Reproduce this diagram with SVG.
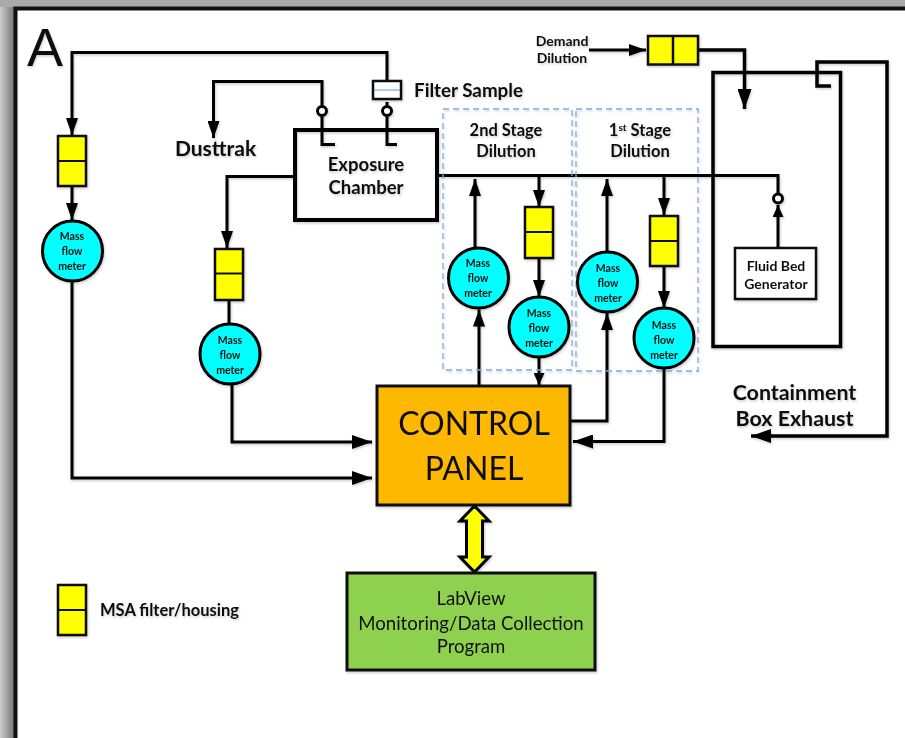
<svg xmlns="http://www.w3.org/2000/svg" width="905" height="738" viewBox="0 0 905 738">
<defs>
<style>
text{font-family:Lato,"Open Sans","Liberation Sans",sans-serif;fill:#111;text-anchor:middle}
.b{font-weight:700}
.c{fill:none;stroke:#000;stroke-width:3}
.c2{fill:none;stroke:#000;stroke-width:3.5}
.f{fill:#ff0;stroke:#111;stroke-width:2.5}
.m{fill:#0ff;stroke:#000;stroke-width:3}
.mt{font-size:10.500px;font-weight:700}
.h{fill:#000}
.d{fill:none;stroke:#7fadd6;stroke-width:1.3;stroke-dasharray:6 4}
.v{fill:#fff;stroke:#000;stroke-width:3}
</style>
<marker id="a" viewBox="0 0 17 12" markerWidth="17" markerHeight="12" refX="17" refY="6" orient="auto" markerUnits="userSpaceOnUse"><path d="M0 0L17 6L0 12Z" fill="#000"/></marker>
<marker id="a2" viewBox="0 0 20 14" markerWidth="20" markerHeight="14" refX="20" refY="7" orient="auto" markerUnits="userSpaceOnUse"><path d="M0 0L20 7L0 14Z" fill="#000"/></marker>
<marker id="a3" viewBox="0 0 12 11" markerWidth="12" markerHeight="11" refX="12" refY="5.500" orient="auto" markerUnits="userSpaceOnUse"><path d="M0 0L12 5.500L0 11Z" fill="#000"/></marker>
<filter id="s" x="0" y="0" width="100%" height="100%" filterUnits="userSpaceOnUse" primitiveUnits="userSpaceOnUse"><feGaussianBlur in="SourceGraphic" stdDeviation="0.400" result="b"/><feDropShadow in="b" dx="1" dy="1.500" stdDeviation="1" flood-color="#000" flood-opacity="0.200"/></filter>
<linearGradient id="g" x1="0" x2="1" y1="0" y2="0"><stop offset="0" stop-color="#ccc"/><stop offset="1" stop-color="#777"/></linearGradient>
</defs>
<rect width="905" height="738" fill="#fff"/>
<rect x="0" y="0" width="14" height="738" fill="url(#g)"/>
<rect x="0" y="0" width="905" height="7" fill="#aaa"/>
<path d="M15.500 738V8.500H905" fill="none" stroke="#111" stroke-width="4"/>
<g filter="url(#s)">
<text x="45" y="66" style="font-size:54px;font-family:'Liberation Sans',sans-serif">A</text>

<g id="connectors">
<path class="c" marker-end="url(#a)" d="M387 80V52.500H72V135"/>
<path class="c" marker-end="url(#a)" d="M322 106V81.500H213.500V138"/>
<path class="c" d="M322 116V144.500H335M387 102V144.500H397"/>
<path class="c" marker-end="url(#a)" d="M72 187V220"/>
<path class="c" marker-end="url(#a)" d="M295 176.500H227V248"/>
<path class="c" d="M229 300V324"/>
<path class="c" marker-end="url(#a2)" d="M232 384V442H372"/>
<path class="c" marker-end="url(#a2)" d="M72 281V478H372"/>
<path class="c" d="M437 175.500H778V193"/>
<path class="c" marker-end="url(#a)" d="M479 385V309.500"/>
<path class="c" marker-end="url(#a)" d="M475 248V179"/>
<path class="c" marker-end="url(#a)" d="M539 176V207"/>
<path class="c" marker-end="url(#a)" d="M539 258V297"/>
<path class="c" marker-end="url(#a3)" d="M539 357V385"/>
<path class="c" marker-end="url(#a)" d="M571 421H607V313"/>
<path class="c" marker-end="url(#a)" d="M607 252V179"/>
<path class="c" marker-end="url(#a)" d="M664 176V215"/>
<path class="c" marker-end="url(#a)" d="M664 266V308"/>
<path class="c" marker-end="url(#a2)" d="M664 368V441.500H573"/>
<path class="c" marker-end="url(#a3)" d="M778 247V205"/>
<path class="c" marker-end="url(#a)" d="M589 50H646"/>
<path class="c2" marker-end="url(#a2)" d="M699 50H744.500V109"/>
<path class="c2" d="M713 346.500V72.500H840.500V346.500Z"/>
<path class="c2" marker-end="url(#a2)" d="M831 86H817V62H887V436H751"/>
</g>

<g id="stage2"><rect class="d" x="443" y="109" width="129" height="261"/><text class="b" x="506" y="136" font-size="16.500">2nd Stage</text><text class="b" x="506" y="157" font-size="16.500">Dilution</text></g>
<g id="stage1"><rect class="d" x="576" y="109" width="122" height="262"/><text class="b" x="640" y="136" font-size="16.500">1<tspan font-size="10" dy="-5">st</tspan><tspan dy="5"> Stage</tspan></text><text class="b" x="640" y="157" font-size="16.500">Dilution</text></g>

<g id="chamber"><rect x="295" y="130" width="142" height="90" fill="none" stroke="#000" stroke-width="4"/><text class="b" x="366" y="171" font-size="18.500">Exposure</text><text class="b" x="366" y="194" font-size="18.500">Chamber</text></g>
<g id="filter-sample"><rect x="373" y="81" width="28" height="18" fill="#fff" stroke="#111" stroke-width="2.500"/><path d="M374 90H400" stroke="#5b9bd5" stroke-width="1"/><text class="b" x="468.500" y="97" font-size="18.800">Filter Sample</text></g>
<g id="valve1"><circle class="v" cx="322" cy="111" r="4.500"/></g>
<g id="valve2"><circle class="v" cx="387" cy="111" r="4.500"/></g>
<g id="valve3"><circle class="v" cx="778" cy="198.500" r="4.500"/></g>
<g id="dusttrak"><text class="b" x="215.500" y="156" font-size="21">Dusttrak</text></g>
<g id="demand"><text class="b" x="562" y="46" font-size="14">Demand</text><text class="b" x="562" y="63" font-size="14">Dilution</text></g>
<g id="demand-filter"><rect class="f" x="648" y="36" width="50" height="28.500"/><path d="M673 36V64" stroke="#111" stroke-width="2.500"/></g>

<g id="filter1"><rect class="f" x="58" y="136" width="28" height="50"/><path d="M58 161H86" stroke="#111" stroke-width="2"/></g>
<g id="filter2"><rect class="f" x="215" y="249" width="28" height="51"/><path d="M215 273.500H243" stroke="#111" stroke-width="2"/></g>
<g id="filter3"><rect class="f" x="525" y="207" width="28" height="51"/><path d="M525 232H553" stroke="#111" stroke-width="2"/></g>
<g id="filter4"><rect class="f" x="650" y="216" width="28" height="50"/><path d="M650 241H678" stroke="#111" stroke-width="2"/></g>
<g id="legend-filter"><rect class="f" x="58" y="585" width="28" height="50"/><path d="M58 610H86" stroke="#111" stroke-width="2"/><text class="b" x="169.500" y="616" font-size="16.500">MSA filter/housing</text></g>

<g id="mfm1"><circle class="m" cx="72.500" cy="251" r="30"/><text class="mt" x="72" y="240">Mass</text><text class="mt" x="72" y="255">flow</text><text class="mt" x="72" y="270">meter</text></g>
<g id="mfm2"><circle class="m" cx="230" cy="354" r="30"/><text class="mt" x="230" y="344">Mass</text><text class="mt" x="230" y="359">flow</text><text class="mt" x="230" y="374">meter</text></g>
<g id="mfm3"><circle class="m" cx="478.500" cy="278" r="30"/><text class="mt" x="478" y="267">Mass</text><text class="mt" x="478" y="282">flow</text><text class="mt" x="478" y="297">meter</text></g>
<g id="mfm4"><circle class="m" cx="539" cy="327" r="30"/><text class="mt" x="539" y="317">Mass</text><text class="mt" x="539" y="332">flow</text><text class="mt" x="539" y="347">meter</text></g>
<g id="mfm5"><circle class="m" cx="607.500" cy="282" r="30"/><text class="mt" x="608" y="272">Mass</text><text class="mt" x="608" y="287">flow</text><text class="mt" x="608" y="302">meter</text></g>
<g id="mfm6"><circle class="m" cx="664" cy="338" r="30"/><text class="mt" x="664" y="329">Mass</text><text class="mt" x="664" y="344">flow</text><text class="mt" x="664" y="359">meter</text></g>

<g id="generator"><rect x="735" y="248" width="81" height="51" fill="#fff" stroke="#111" stroke-width="2.500"/><text class="b" x="776" y="271" font-size="14">Fluid Bed</text><text class="b" x="776" y="289" font-size="14">Generator</text></g>
<g id="exhaust-label"><text class="b" x="794.500" y="400" font-size="21.400">Containment</text><text class="b" x="794.500" y="426" font-size="21.400">Box Exhaust</text></g>

<g id="control-panel"><rect x="377" y="386" width="193" height="119" fill="#ffb800" stroke="#111" stroke-width="3"/><text x="474" y="435" font-size="32">CONTROL</text><text x="474" y="480" font-size="32">PANEL</text></g>
<g id="link"><path d="M474.500 506L489 521H482.500V557H489L474.500 572L460 557H466.500V521H460Z" fill="#ff0" stroke="#000" stroke-width="3"/></g>
<g id="labview"><rect x="347" y="573" width="248" height="97" fill="#8ed14f" stroke="#111" stroke-width="3"/><text x="471" y="605" font-size="18.600">LabView</text><text x="471" y="630" font-size="18.600">Monitoring/Data Collection</text><text x="471" y="653" font-size="18.600">Program</text></g>
</g>
</svg>
